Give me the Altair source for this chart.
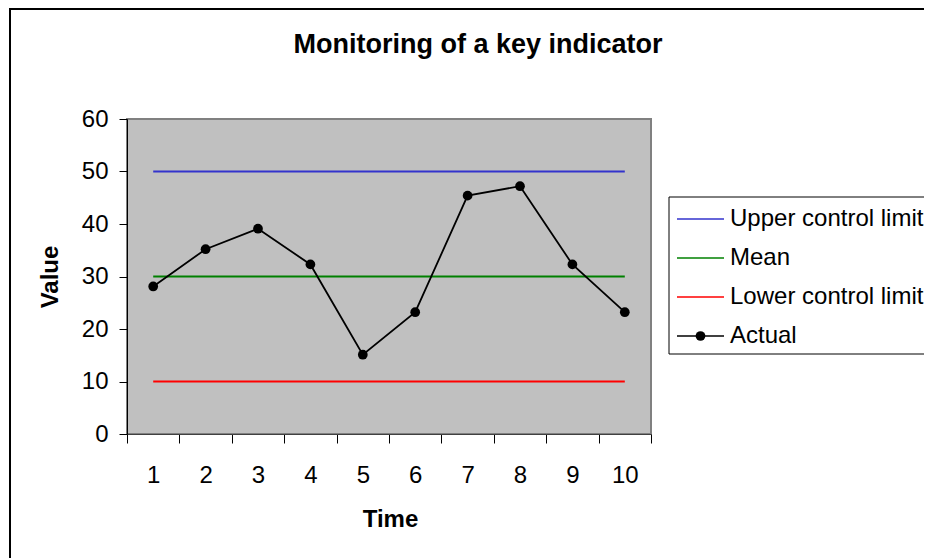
import altair as alt
import pandas as pd

# ---- data ----
time = [1, 2, 3, 4, 5, 6, 7, 8, 9, 10]
actual = [28.1, 35.2, 39.1, 32.3, 15.1, 23.2, 45.4, 47.2, 32.3, 23.2]
upper = [50, 50, 50, 50, 50, 50, 50, 50, 50, 50]
mean = [30, 30, 30, 30, 30, 30, 30, 30, 30, 30]
lower = [10, 10, 10, 10, 10, 10, 10, 10, 10, 10]
series_names = ["Upper control limit", "Mean", "Lower control limit", "Actual"]
series_colors = ["#3333CC", "#008000", "#FF0000", "#000000"]
y_ticks = [0, 10, 20, 30, 40, 50, 60]
title_text = "Monitoring of a key indicator"

FONT = "Liberation Sans"

rows = []
for name, vals in zip(series_names, [upper, mean, lower, actual]):
    for t, v in zip(time, vals):
        rows.append({"time": t, "value": v, "series": name})
df = pd.DataFrame(rows)
legend_df = pd.DataFrame({"series": series_names})
one = pd.DataFrame({"k": [0]})

color_scale = alt.Scale(domain=series_names, range=series_colors)

x_enc = alt.X(
    "time:O",
    scale=alt.Scale(type="band", paddingInner=0, paddingOuter=0),
    axis=alt.Axis(
        title="Time", labelAngle=0, tickBand="extent",
        labelFont=FONT, labelFontSize=24, labelColor="black",
        labelPadding=20, tickSize=9, tickColor="black", domainColor="#404040",
        titleFont=FONT, titleFontSize=24, titleFontWeight="bold", titleColor="black",
        titleX=263, titleY=92, titleBaseline="alphabetic", grid=False,
    ),
)
y_enc = alt.Y(
    "value:Q",
    scale=alt.Scale(domain=[0, 60], nice=False, zero=True),
    axis=alt.Axis(
        title="Value", values=y_ticks, grid=False,
        labelFont=FONT, labelFontSize=24, labelColor="black", labelPadding=11,
        tickSize=8, tickColor="black", domainColor="black",
        titleFont=FONT, titleFontSize=24, titleFontWeight="bold", titleColor="black",
        titleX=-77, titleY=157.5, titleBaseline="middle", titleAngle=-90,
    ),
)

frame = alt.Chart(one).mark_rect(fill="transparent", stroke="black", strokeWidth=2).encode(
    x=alt.value(-117), x2=alt.value(830), y=alt.value(-110), y2=alt.value(470)
)
title = alt.Chart(one).mark_text(
    text=title_text, font=FONT, fontSize=27, fontWeight="bold", color="black",
    align="center", baseline="alphabetic",
).encode(x=alt.value(351), y=alt.value(-66))

limits = alt.Chart(df).transform_filter(alt.datum.series != "Actual").mark_line(strokeWidth=2).encode(
    x=x_enc, y=y_enc, color=alt.Color("series:N", scale=color_scale, legend=None)
)
actual_line = alt.Chart(df).transform_filter(alt.datum.series == "Actual").mark_line(strokeWidth=1.8).encode(
    x=x_enc, y=y_enc, color=alt.Color("series:N", scale=color_scale, legend=None)
)
actual_pts = alt.Chart(df).transform_filter(alt.datum.series == "Actual").mark_circle(size=95, opacity=1).encode(
    x=x_enc, y=y_enc, color=alt.Color("series:N", scale=color_scale, legend=None)
)
main = alt.layer(limits, actual_line, actual_pts)

leg_y = alt.Y("series:N", scale=alt.Scale(type="point", domain=series_names, range=[100, 217], padding=0), axis=None)
leg_box = alt.Chart(one).mark_rect(fill="white", stroke="black", strokeWidth=1).encode(
    x=alt.value(542), x2=alt.value(830), y=alt.value(78), y2=alt.value(235)
)
leg_rules = alt.Chart(legend_df).mark_rule(strokeWidth=1.5).encode(
    x=alt.value(550), x2=alt.value(597), y=leg_y,
    color=alt.Color("series:N", scale=color_scale, legend=None),
)
leg_dot = alt.Chart(legend_df).transform_filter(alt.datum.series == "Actual").mark_circle(size=95, opacity=1).encode(
    x=alt.value(573.5), y=leg_y, color=alt.Color("series:N", scale=color_scale, legend=None)
)
leg_text = alt.Chart(legend_df).mark_text(
    align="left", baseline="middle", font=FONT, fontSize=24, color="black"
).encode(x=alt.value(603), y=leg_y, text="series:N")
legend = alt.layer(leg_box, leg_rules, leg_dot, leg_text)

chart = (
    alt.layer(frame, title, main, legend)
    .resolve_scale(y="independent")
    .properties(
        width=524, height=315,
        background="white",
        autosize=alt.AutoSizeParams(type="none"),
        padding={"left": 119, "top": 111, "right": 273, "bottom": 124},
    )
    .configure_view(fill="#C0C0C0", stroke="#808080", strokeWidth=2)
)

chart.save("out.html", embed_options={"renderer": "svg", "actions": False})
